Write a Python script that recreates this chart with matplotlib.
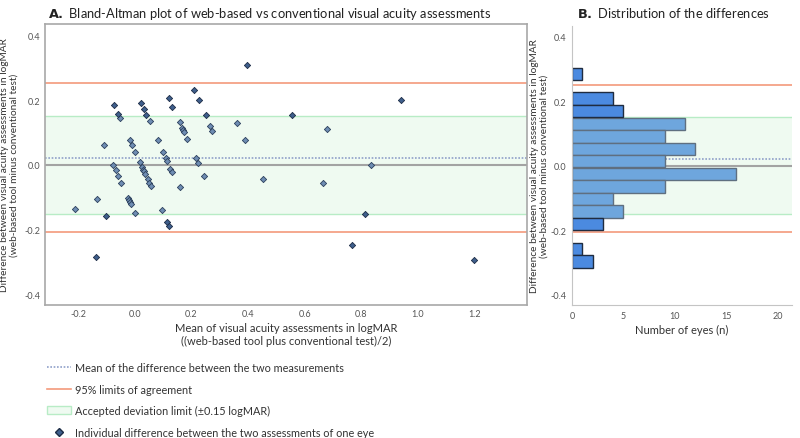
import numpy as np
import matplotlib
matplotlib.use("Agg")
import matplotlib.pyplot as plt
from matplotlib.lines import Line2D
from matplotlib.patches import Patch

plt.rcParams['font.family'] = ['Lato', 'DejaVu Sans']

# ── Bland-Altman points (mean, difference) ──
mean_vals = [-0.213, -0.137, -0.132, -0.110, -0.102, -0.075, -0.077, -0.067, -0.060, -0.059,
             -0.053, -0.048, -0.025, -0.021, -0.017, -0.013, -0.018, -0.009, 0.001, 0.001,
             0.018, 0.022, 0.025, 0.029, 0.033, 0.036, 0.032, 0.041, 0.045, 0.051,
             0.056, 0.052, 0.081, 0.095, 0.100, 0.110, 0.115, 0.114, 0.121, 0.120,
             0.126, 0.132, 0.133, 0.158, 0.159, 0.167, 0.170, 0.175, 0.186, 0.210,
             0.217, 0.225, 0.226, 0.246, 0.250, 0.267, 0.274, 0.362, 0.389, 0.396,
             0.452, 0.556, 0.665, 0.678, 0.766, 0.815, 0.836, 0.939, 1.198]
diff_vals = [-0.135, -0.284, -0.104, 0.062, -0.158, 0.186, 0.001, -0.016, 0.157, -0.034,
             0.144, -0.054, -0.102, -0.108, -0.114, -0.121, 0.078, 0.061, 0.041, -0.149,
             0.008, 0.190, -0.007, -0.014, -0.020, -0.027, 0.172, 0.154, -0.044, -0.055,
             -0.064, 0.135, 0.078, -0.138, 0.041, 0.022, 0.012, -0.174, -0.189, 0.205,
             -0.011, -0.021, 0.178, -0.068, 0.132, 0.113, 0.108, 0.101, 0.080, 0.230,
             0.020, 0.007, 0.199, -0.035, 0.154, 0.119, 0.105, 0.128, 0.078, 0.308,
             -0.044, 0.155, -0.054, 0.112, -0.245, -0.151, 0.000, 0.200, -0.292]

# ── summary lines ──
mean_diff = 0.022
loa_upper = 0.251
loa_lower = -0.206
accepted = 0.15

# ── histogram of differences ──
hist_centers = [0.284, 0.209, 0.170, 0.130, 0.091, 0.052, 0.014, -0.025,
                -0.064, -0.102, -0.141, -0.180, -0.257, -0.296]
hist_counts = [1, 4, 5, 11, 9, 12, 9, 16, 9, 4, 5, 3, 1, 2]
bin_height = 0.038

salmon = "#f49a7c"
band_fill = "#effaf1"
band_edge = "#b8ecc6"
dot_blue = "#8f9fc9"
zero_gray = "#a3a3a3"
tick_gray = "#555555"
label_col = "#333333"

ylabel_txt = ("Difference between visual acuity assessments in logMAR\n"
              "(web-based tool minus conventional test)")

fig = plt.figure(figsize=(8, 4.39), dpi=100)
ax_a = fig.add_axes([0.056, 0.303, 0.6025, 0.640])
ax_b = fig.add_axes([0.715, 0.303, 0.275, 0.636])

ylim = (-0.431, 0.434)


def draw_guides(ax):
    ax.axhspan(-accepted, accepted, facecolor=band_fill, edgecolor="none", zorder=0)
    ax.axhline(accepted, color=band_edge, lw=1, zorder=1)
    ax.axhline(-accepted, color=band_edge, lw=1, zorder=1)
    ax.axhline(loa_upper, color=salmon, lw=1.2, zorder=1)
    ax.axhline(loa_lower, color=salmon, lw=1.2, zorder=1)
    ax.axhline(0, color=zero_gray, lw=1.5, zorder=1)
    ax.axhline(mean_diff, color=dot_blue, lw=1.2, ls=(0, (1, 1)), zorder=1)


# ── Panel A: Bland-Altman ──
draw_guides(ax_a)
mv = np.array(mean_vals)
dv = np.array(diff_vals)
outside = np.abs(dv) > accepted
ax_a.scatter(mv[~outside], dv[~outside], marker="D", s=10, facecolor="#6f8db3",
             edgecolor="#2b3f5c", linewidth=0.6, zorder=3)
ax_a.scatter(mv[outside], dv[outside], marker="D", s=10, facecolor="#3f5f8c",
             edgecolor="#1c2c45", linewidth=0.6, zorder=3)
ax_a.set_xlim(-0.318, 1.385)
ax_a.set_ylim(*ylim)
xt = np.arange(-0.2, 1.21, 0.2)
ax_a.set_xticks(xt)
ax_a.set_xticklabels([f"{v:.1f}" for v in xt])
ax_a.set_yticks([-0.4, -0.2, 0.0, 0.2, 0.4])
ax_a.set_yticklabels(["-0.4", "-0.2", "0.0", "0.2", "0.4"])
ax_a.tick_params(length=0, labelsize=6.5, labelcolor=tick_gray, pad=3)
for s in ax_a.spines.values():
    s.set_color("#a8a8a8")
    s.set_linewidth(1.2)
ax_a.set_xlabel("Mean of visual acuity assessments in logMAR\n((web-based tool plus conventional test)/2)",
                fontsize=8, color=label_col, labelpad=3)
ax_a.set_ylabel(ylabel_txt, fontsize=7.3, color=label_col, labelpad=4)
fig.text(0.06, 0.958, r"$\bf{A.}$ Bland-Altman plot of web-based vs conventional visual acuity assessments",
         fontsize=9.3, color="#222222", va="baseline")

# ── Panel B: distribution ──
draw_guides(ax_b)
hc = np.array(hist_centers)
cnt = np.array(hist_counts)
inside = np.abs(hc) < accepted
ax_b.barh(hc[inside], cnt[inside], height=bin_height,
          color="#6ea6dd", edgecolor="#5f6f80", linewidth=1.0, zorder=2)
ax_b.barh(hc[~inside], cnt[~inside], height=bin_height,
          color="#4b8ae0", edgecolor="#1f2c40", linewidth=1.0, zorder=2)
ax_b.set_xlim(0, 21.4)
ax_b.set_ylim(*ylim)
ax_b.set_xticks([0, 5, 10, 15, 20])
ax_b.set_yticks([-0.4, -0.2, 0.0, 0.2, 0.4])
ax_b.set_yticklabels(["-0.4", "-0.2", "0.0", "0.2", "0.4"])
ax_b.tick_params(length=0, labelsize=6.5, labelcolor=tick_gray, pad=4)
ax_b.spines["top"].set_visible(False)
ax_b.spines["right"].set_visible(False)
ax_b.spines["left"].set_color("#c4c4c4")
ax_b.spines["bottom"].set_color("#c4c4c4")
ax_b.set_xlabel("Number of eyes (n)", fontsize=8, color=label_col, labelpad=3)
ax_b.set_ylabel(ylabel_txt, fontsize=7.3, color=label_col, labelpad=1)
fig.text(0.721, 0.958, r"$\bf{B.}$ Distribution of the differences",
         fontsize=9.3, color="#222222", va="baseline")

# ── Legend ──
handles = [
    Line2D([], [], color=dot_blue, lw=1.2, ls=(0, (1, 1))),
    Line2D([], [], color=salmon, lw=1.2),
    Patch(facecolor=band_fill, edgecolor=band_edge, lw=1),
    Line2D([], [], marker="D", ls="none", markersize=4, markerfacecolor="#3f5f8c",
           markeredgecolor="#1c2c45"),
]
labels = [
    "Mean of the difference between the two measurements",
    "95% limits of agreement",
    "Accepted deviation limit (\u00b10.15 logMAR)",
    "Individual difference between the two assessments of one eye",
]
fig.legend(handles, labels, loc="upper left", bbox_to_anchor=(0.053, 0.183),
           frameon=False, fontsize=7.8, labelspacing=0.97, handlelength=2.2,
           handletextpad=0.45, labelcolor=label_col, borderaxespad=0)

fig.savefig("out.png", dpi=100)
